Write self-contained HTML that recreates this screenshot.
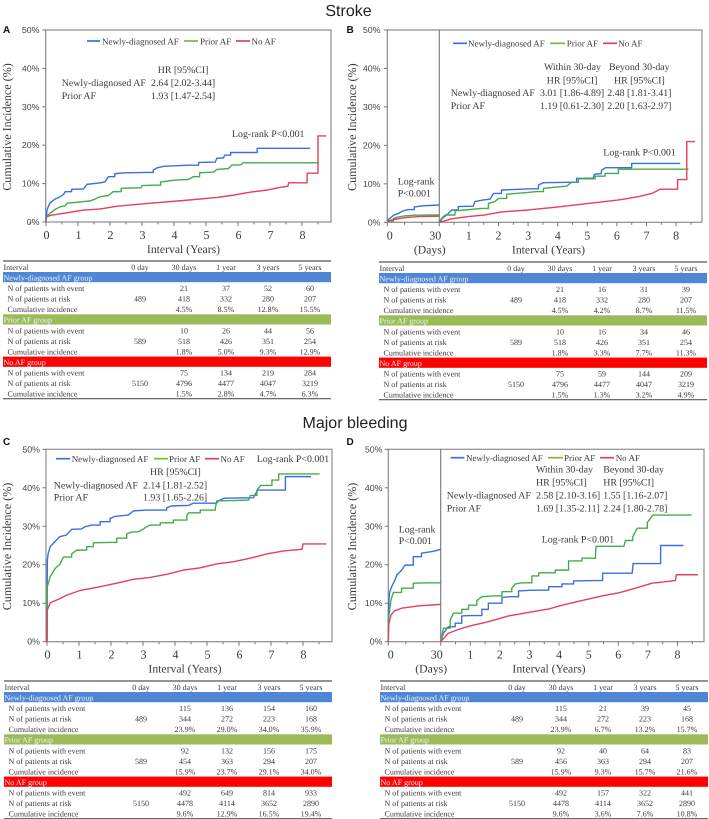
<!DOCTYPE html>
<html lang="en">
<head>
<meta charset="utf-8">
<title>Stroke and major bleeding cumulative incidence</title>
<style>
html,body{margin:0;padding:0;background:#fff;}
#figure{display:block;width:709px;height:819px;filter:blur(0.35px);text-rendering:geometricPrecision;}
text{font-family:"Liberation Serif",serif;fill:#3a3a3a;text-rendering:geometricPrecision;}
</style>
</head>
<body>
<svg id="figure" xmlns="http://www.w3.org/2000/svg" width="709" height="819" viewBox="0 0 709 819">
<text x="348.5" y="16" text-anchor="middle" style="font-family:'Liberation Sans',sans-serif;font-size:16px;fill:#222">Stroke</text>
<text x="355" y="428" text-anchor="middle" style="font-family:'Liberation Sans',sans-serif;font-size:16px;fill:#222">Major bleeding</text>
<text x="3" y="33" style="font-family:'Liberation Sans',sans-serif;font-size:10px;font-weight:bold;fill:#111">A</text>
<text x="346.5" y="33" style="font-family:'Liberation Sans',sans-serif;font-size:10px;font-weight:bold;fill:#111">B</text>
<text x="3" y="445" style="font-family:'Liberation Sans',sans-serif;font-size:10px;font-weight:bold;fill:#111">C</text>
<text x="346.5" y="445" style="font-family:'Liberation Sans',sans-serif;font-size:10px;font-weight:bold;fill:#111">D</text>
<g id="charts"></g>
<g id="tables"></g>
</svg>
<script>
// ---------- shared labels ----------
const yTickValues = [0, 10, 20, 30, 40, 50];
const yearTicks = [0, 1, 2, 3, 4, 5, 6, 7, 8];
const yearTicksNoZero = [1, 2, 3, 4, 5, 6, 7, 8];
const seriesNames = ['Newly-diagnosed AF', 'Prior AF', 'No AF'];
const tableColumns = ['0 day', '30 days', '1 year', '3 years', '5 years'];
const groupNames = ['Newly-diagnosed AF group', 'Prior AF group', 'No AF group'];
const rowNames = ['N of patients with event', 'N of patients at risk', 'Cumulative incidence'];

// ---------- Panel A (years, %) ----------
const aNewT = [0,0.03,0.08,0.13,0.29,0.45,0.55,0.6,0.8,1.17,1.28,1.7,1.85,1.95,2.15,2.5,3.15,3.35,3.47,3.68,4.46,4.77,5.29,5.34,5.55,5.58,5.77,6.6,8.26];
const aNewY = [0,3.1,4.2,5,6,6.6,7.2,7.9,8.5,8.6,9.8,10.2,10.5,11.8,12.6,12.8,12.9,13.5,14.1,14.5,14.8,15.5,15.6,16.6,16.7,17.4,18.1,19.2,19.2];
const aPriorT = [0,0.05,0.13,0.29,0.45,0.6,0.66,1.02,1.39,1.54,1.7,1.95,2.1,2.35,2.97,3,3.37,3.58,4,4.46,4.6,4.8,5.24,5.34,5.7,5.8,6.1,6.15,8.52];
const aPriorY = [1.2,1.7,2.3,3.3,4,4.2,4.9,5.2,5.5,6,6.6,6.9,7.9,8.8,8.9,9.5,9.6,10.4,10.9,11.1,11.8,12.8,13,13.7,13.9,14.8,14.9,15.4,15.4];
const aNoT = [0,0.13,0.65,1.18,1.7,2.2,3.26,4.3,5.35,5.87,6.4,6.9,7.3,7.56,7.58,8.16,8.16,8.5,8.5,8.76];
const aNoY = [1.2,1.7,2.4,3.1,3.4,4.1,4.9,5.6,6.4,7,7.8,8.3,9,9.3,10.2,10.2,12.7,12.7,22.4,22.4];

// ---------- Panel B (days 0-30, then years) ----------
const bNewDay = [0,1.5,3.5,6.3,9.2,12,15.6,20.8,25.6,30];
const bNewDayY = [0.5,1,1.8,2.3,3,3.3,4,4.3,4.4,4.5];
const bPriorDay = [0,3.5,6.3,10,16,30];
const bPriorDayY = [0.3,1,1.4,1.65,1.85,1.9];
const bNoDay = [0,3.5,10,17.9,30];
const bNoDayY = [0.3,0.7,1.2,1.5,1.6];
const bNewT = [0,0.1,0.25,0.42,0.64,1.15,1.2,1.49,1.71,1.83,2.1,3.06,3.35,3.52,4.36,4.64,5.2,5.24,5.46,5.49,5.62,6.5,8.14];
const bNewY = [0,1,1.9,3.2,4.1,4.2,5.4,5.8,6,7.5,8.4,8.7,9.7,10.3,10.4,11.4,11.5,12.5,12.6,13.6,14.2,15.3,15.3];
const bPriorT = [0,0.1,0.2,0.53,0.87,1.43,1.66,1.88,2,2.28,2.9,3.3,3.52,3.85,4.3,4.47,4.7,5.26,5.6,6.05,8.42];
const bPriorY = [0.3,1.2,1.9,3,3.2,3.6,4.9,5.4,6.2,7.3,7.7,8,8.8,9.1,9.4,10.4,11.3,12,12.7,13.8,13.8];
const bNoT = [0,0.42,0.98,1.54,2.1,3,3.9,5.04,5.6,6.16,6.73,7.18,7.46,8.05,8.05,8.36,8.36,8.64];
const bNoY = [0,0.9,1.5,1.9,2.7,3.2,3.9,4.9,5.4,5.9,6.7,7.5,8.6,8.6,11.1,11.1,21,21];

// ---------- Panel C (years, %) ----------
const cNewT = [0,0.01,0.04,0.1,0.25,0.4,0.6,0.77,1.08,1.19,1.4,1.66,1.97,2.13,2.54,2.7,3.12,3.74,3.9,4.42,4.58,5.3,5.36,5.54,6.45,6.58,7.45,8.25];
const cNewY = [0,21.2,23,24.7,26,27.3,27.7,29.2,29.3,29.9,30.3,31.2,32,32.6,32.9,34,34.2,34.8,35.3,35.4,36,36,36.6,37.3,37.4,39.4,42.9,42.9];
const cPriorT = [0,0.01,0.1,0.25,0.41,0.51,0.77,0.93,1.24,1.45,1.92,2.18,2.49,2.65,2.86,3,3.1,3.22,3.54,3.95,4.37,4.42,4.79,5.26,5.31,5.99,6.3,6.35,6.56,6.68,7.03,7.24,8.52];
const cPriorY = [0,14.3,16.9,19,20.2,22,22.8,23.8,24.7,25.7,25.8,26.9,28,28.5,28.6,29.2,29.8,30.3,30.9,31.6,32.8,33.5,34.2,34.8,36.6,36.7,36.8,38,39.4,40.6,42,43.6,43.6];
const cNoT = [0,0.01,0.1,0.35,0.62,1.03,1.66,2.18,2.7,3.22,3.74,4.26,4.79,5.3,5.83,6.35,6.87,7.39,7.97,8,8.73];
const cNoY = [0,8.2,10.1,11,12.1,13.3,14.3,15.2,16.2,16.7,17.5,18.6,19.2,20.2,20.8,21.7,22.8,23.6,24,25.4,25.4];

// ---------- Panel D (days 0-30, then years) ----------
const dNewDay = [0,0.1,0.6,1.9,3.8,4.8,7.6,9.6,14.3,19,25.8,30];
const dNewDayY = [0,8.2,12.6,14.3,16,17.3,18.6,19.9,22.1,23,23.5,24];
const dPriorDay = [0,0.1,1.5,2.9,7.6,14.3,22.9,30];
const dPriorDayY = [0,6,10.8,12.8,13.9,15.2,15.3,15.9];
const dNoDay = [0,0.2,1.5,3.4,7.6,17.2,30];
const dNoDayY = [0,4.3,6.9,8,8.7,9.3,9.7];
const dNewT = [0,0.09,0.26,0.49,0.71,0.99,1.39,1.61,2.07,2.35,2.63,3.08,3.65,4.1,4.49,5.23,5.47,6.47,6.5,7.43,8.2];
const dNewY = [0,2.2,3.9,4.8,6.7,6.8,8.4,10,11.5,11.7,13.2,13.4,14.3,15,15.8,15.9,17.8,17.8,20.3,25,25];
const dPriorT = [0,0.09,0.32,0.43,0.71,0.94,1.22,1.39,1.78,2.07,2.4,2.52,2.74,3.08,3.31,3.87,4.32,4.77,5.23,5.25,6.19,6.24,6.49,6.64,6.98,7.17,8.48];
const dPriorY = [0,3.5,5.6,7.4,8.4,9.5,10.7,11.7,11.9,13,13.9,15,15.3,17.1,17.9,18.6,21,21.7,22.5,24.8,24.8,26.3,27.3,29.5,31,32.9,32.9];
const dNoT = [0,0.26,0.6,0.99,1.61,2.29,2.97,3.65,4.1,4.77,5.45,6.02,6.58,7.14,7.6,7.93,7.96,8.69];
const dNoY = [0,2.2,3.2,4.1,5.2,6.7,7.6,8.5,9.5,10.7,11.9,12.7,13.9,15.2,15.6,15.9,17.4,17.4];

// ---------- Risk tables ----------
const tableAEvents = [[21,37,52,60],[10,26,44,56],[75,134,219,284]];
const tableARisk = [[489,418,332,280,207],[589,518,426,351,254],[5150,4796,4477,4047,3219]];
const tableACum = [['4.5%','8.5%','12.8%','15.5%'],['1.8%','5.0%','9.3%','12.9%'],['1.5%','2.8%','4.7%','6.3%']];
const tableBEvents = [[21,16,31,39],[10,16,34,46],[75,59,144,209]];
const tableBRisk = [[489,418,332,280,207],[589,518,426,351,254],[5150,4796,4477,4047,3219]];
const tableBCum = [['4.5%','4.2%','8.7%','11.5%'],['1.8%','3.3%','7.7%','11.3%'],['1.5%','1.3%','3.2%','4.9%']];
const tableCEvents = [[115,136,154,160],[92,132,156,175],[492,649,814,933]];
const tableCRisk = [[489,344,272,223,168],[589,454,363,294,207],[5150,4478,4114,3652,2890]];
const tableCCum = [['23.9%','29.0%','34.0%','35.9%'],['15.9%','23.7%','29.1%','34.0%'],['9.6%','12.9%','16.5%','19.4%']];
const tableDEvents = [[115,21,39,45],[92,40,64,83],[492,157,322,441]];
const tableDRisk = [[489,344,272,223,168],[589,456,363,294,207],[5150,4478,4114,3652,2890]];
const tableDCum = [['23.9%','6.7%','13.2%','15.7%'],['15.9%','9.3%','15.7%','21.6%'],['9.6%','3.6%','7.6%','10.8%']];

const SVGNS = 'http://www.w3.org/2000/svg';
const curveColors = ['#3b6fe0', '#43ad4a', '#e2405c'];
const legendColors = ['#3b6fe0', '#7cb83f', '#e2405c'];
const bandColors = ['#4f86d6', '#9bbb59', '#ff0000'];

function text(parent, x, y, str, size, name, anchor, sans, fill) {
  const el = document.createElementNS(SVGNS, 'text');
  el.setAttribute('x', x);
  el.setAttribute('y', y);
  
  
  el.setAttribute('text-anchor', anchor || 'start');
  el.style.fontSize = size + 'px';
  if (sans) el.style.fontFamily = '"Liberation Sans",sans-serif';
  if (fill) el.style.fill = fill;
  el.textContent = str;
  parent.appendChild(el);
  return el;
}
function line(parent, x1, y1, x2, y2, color, w, name) {
  const el = document.createElementNS(SVGNS, 'line');
  el.setAttribute('x1', x1);
  el.setAttribute('y1', y1);
  el.setAttribute('x2', x2);
  el.setAttribute('y2', y2);
  el.setAttribute('stroke', color);
  el.setAttribute('stroke-width', w);
  
  
  parent.appendChild(el);
}
// Kaplan-Meier style: long flat runs followed by a rise are drawn as a hold-then-jump,
// short runs are joined directly.
function curve(parent, ts, ys, xf, yf, color, stepped, name) {
  let d = 'M' + xf(ts[0]).toFixed(2) + ' ' + yf(ys[0]).toFixed(2);
  for (let i = 1; i < ts.length; i++) {
    const dx = xf(ts[i]) - xf(ts[i - 1]);
    const dy = yf(ys[i - 1]) - yf(ys[i]);
    if (stepped && dx >= 6 && dy >= 2) d += 'L' + xf(ts[i]).toFixed(2) + ' ' + yf(ys[i - 1]).toFixed(2);
    d += 'L' + xf(ts[i]).toFixed(2) + ' ' + yf(ys[i]).toFixed(2);
  }
  const el = document.createElementNS(SVGNS, 'path');
  el.setAttribute('d', d);
  el.setAttribute('fill', 'none');
  el.setAttribute('stroke', color);
  el.setAttribute('stroke-width', '1.4');
  el.setAttribute('stroke-linejoin', 'round');
  
  
  parent.appendChild(el);
}

function panel(p) {
  const g = document.createElementNS(SVGNS, 'g');
  
  
  document.getElementById('charts').appendChild(g);

  const yf = v => p.bottom - (v / 50) * (p.bottom - p.top);
  const xYear = t => p.yearX0 + t * p.yearW;
  const xDay = d => p.left + d * (p.divider - p.left) / 30;

  // frame
  const frame = document.createElementNS(SVGNS, 'rect');
  frame.setAttribute('x', p.left);
  frame.setAttribute('y', p.top);
  frame.setAttribute('width', p.right - p.left);
  frame.setAttribute('height', p.bottom - p.top);
  frame.setAttribute('fill', 'none');
  frame.setAttribute('stroke', '#8c8c8c');
  frame.setAttribute('stroke-width', '1.2');
  
  
  g.appendChild(frame);
  if (p.divider) line(g, p.divider, p.top, p.divider, p.bottom, '#777', 1.1, 'day-year-divider-' + p.id);

  // y axis
  yTickValues.forEach(v => {
    line(g, p.left - 3.5, yf(v), p.left, yf(v), '#777', 1, 'y-tick-' + p.id + '-' + v);
    text(g, p.yLabelX, yf(v) + 3, v + '%', 8.8, 'y-tick-label-' + p.id + '-' + v, 'end', true, '#444');
  });
  const yt = text(g, p.yTitleX, (p.top + p.bottom) / 2 + 1, 'Cumulative Incidence (%)', 12.1, 'y-axis-title-' + p.id, 'middle');
  yt.setAttribute('transform', 'rotate(-90 ' + p.yTitleX + ' ' + ((p.top + p.bottom) / 2 + 1) + ')');

  // x axis
  const ticks = p.divider ? yearTicksNoZero : yearTicks;
  ticks.forEach(t => {
    line(g, xYear(t), p.bottom, xYear(t), p.bottom + 4, '#777', 1, 'x-tick-' + p.id + '-' + t);
    text(g, xYear(t) + (p.divider ? 0 : 0.5), p.bottom + 17, String(t), 12, 'x-tick-label-' + p.id + '-' + t, 'middle');
    line(g, xYear(t - 0.5), p.bottom, xYear(t - 0.5), p.bottom + 2.5, '#777', 1, 'x-minor-tick-' + p.id + '-' + t);
  });
  line(g, xYear(8.5), p.bottom, xYear(8.5), p.bottom + 2.5, '#777', 1, 'x-minor-tick-' + p.id + '-end');
  text(g, p.xTitleX, p.bottom + 31, 'Interval (Years)', 11.7, 'x-axis-title-' + p.id, 'middle');
  if (p.divider) {
    [0, 10, 20, 30].forEach(d => {
      line(g, xDay(d), p.bottom, xDay(d), p.bottom + (d % 30 ? 2.5 : 4), '#777', 1, 'day-tick-' + p.id + '-' + d);
    });
    text(g, p.left + 2.5, p.bottom + 17, '0', 12, 'day-label-' + p.id + '-0', 'middle');
    text(g, p.divider - 4, p.bottom + 17, '30', 12, 'day-label-' + p.id + '-30', 'middle');
    text(g, p.divider - 9.5, p.bottom + 31, '(Days)', 11.7, 'days-axis-title-' + p.id, 'middle');
  }

  // curves
  const keys = ['new', 'prior', 'no'];
  keys.forEach((k, i) => {
    if (p.days) curve(g, p.days[i][0], p.days[i][1], xDay, yf, curveColors[i], i < 2, 'curve-days-' + p.id + '-' + k);
    curve(g, p.series[i][0], p.series[i][1], xYear, yf, curveColors[i], i < 2, 'curve-' + p.id + '-' + k);
  });

  // legend
  seriesNames.forEach((s, i) => {
    const l = p.legend[i];
    line(g, l[0], p.legendY, l[1], p.legendY, legendColors[i], 1.7, 'legend-swatch-' + p.id + '-' + keys[i]);
    text(g, l[2], p.legendY + 3.3, s, 9, 'legend-entry-' + p.id + '-' + keys[i]);
  });

  // annotations
  p.notes.forEach((n, i) => text(g, n[0], n[1], n[2], 9.9, 'annotation-' + p.id + '-' + (i + 1)));
}

panel({
  id: 'a', left: 45.7, right: 331, top: 30, bottom: 222, yearX0: 46, yearW: 32, yLabelX: 39.5, yTitleX: 11, xTitleX: 183.5,
  series: [[aNewT, aNewY], [aPriorT, aPriorY], [aNoT, aNoY]],
  legendY: 41, legend: [[87, 100, 102], [184, 198, 200], [236, 250, 251.5]],
  notes: [
    [157.7, 73, 'HR [95%CI]'],
    [61.7, 86, 'Newly-diagnosed AF'], [151, 86, '2.64 [2.02-3.44]'],
    [61.7, 99, 'Prior AF'], [151, 99, '1.93 [1.47-2.54]'],
    [232, 137, 'Log-rank P<0.001']
  ]
});
panel({
  id: 'b', left: 387.3, right: 702, divider: 439.3, top: 30, bottom: 222.3, yearX0: 439.3, yearW: 29.6, yLabelX: 380.5, yTitleX: 356, xTitleX: 548.5,
  series: [[bNewT, bNewY], [bPriorT, bPriorY], [bNoT, bNoY]],
  days: [[bNewDay, bNewDayY], [bPriorDay, bPriorDayY], [bNoDay, bNoDayY]],
  legendY: 43.3, legend: [[453, 467, 468], [550, 565, 566.7], [603, 617, 618.3]],
  notes: [
    [544, 70, 'Within 30-day'], [609, 70, 'Beyond 30-day'],
    [546.7, 83.3, 'HR [95%CI]'], [614, 83.3, 'HR [95%CI]'],
    [450.7, 96, 'Newly-diagnosed AF'], [540, 96, '3.01 [1.86-4.89]'], [607.3, 96, '2.48 [1.81-3.41]'],
    [450.7, 109, 'Prior AF'], [540, 109, '1.19 [0.61-2.30]'], [607.3, 109, '2.20 [1.63-2.97]'],
    [603.3, 155.7, 'Log-rank P<0.001'],
    [397.7, 184.7, 'Log-rank'], [397.7, 196.7, 'P<0.001']
  ]
});
panel({
  id: 'c', left: 46, right: 332, top: 449.3, bottom: 641.7, yearX0: 47, yearW: 32, yLabelX: 40, yTitleX: 11, xTitleX: 185,
  series: [[cNewT, cNewY], [cPriorT, cPriorY], [cNoT, cNoY]],
  legendY: 458.7, legend: [[56, 70, 71.7], [154, 168, 169], [205, 219, 220.5]],
  notes: [
    [256.7, 462, 'Log-rank P<0.001'],
    [150, 475, 'HR [95%CI]'],
    [53.7, 488.3, 'Newly-diagnosed AF'], [143, 488.3, '2.14 [1.81-2.52]'],
    [53.7, 500.7, 'Prior AF'], [143, 500.7, '1.93 [1.65-2.26]']
  ]
});
panel({
  id: 'd', left: 388.3, right: 704, divider: 440.7, top: 449.3, bottom: 641.7, yearX0: 440.7, yearW: 29.6, yLabelX: 382.5, yTitleX: 356, xTitleX: 549,
  series: [[dNewT, dNewY], [dPriorT, dPriorY], [dNoT, dNoY]],
  days: [[dNewDay, dNewDayY], [dPriorDay, dPriorDayY], [dNoDay, dNoDayY]],
  legendY: 457.7, legend: [[450.7, 464.3, 466], [548, 563, 564], [600, 614, 615.7]],
  notes: [
    [536, 472.7, 'Within 30-day'], [603.3, 472.7, 'Beyond 30-day'],
    [536, 485.7, 'HR [95%CI]'], [603.3, 485.7, 'HR [95%CI]'],
    [446.7, 498.7, 'Newly-diagnosed AF'], [536, 498.7, '2.58 [2.10-3.16]'], [603.3, 498.7, '1.55 [1.16-2.07]'],
    [446.7, 511.3, 'Prior AF'], [536, 511.3, '1.69 [1.35-2.11]'], [603.3, 511.3, '2.24 [1.80-2.78]'],
    [541.7, 542.3, 'Log-rank P<0.001'],
    [398.7, 532.7, 'Log-rank'], [398.7, 544, 'P<0.001']
  ]
});

function table(id, x0, x1, top, events, risk, cum) {
  const g = document.createElementNS(SVGNS, 'g');
  
  
  document.getElementById('tables').appendChild(g);
  const colX = [137, 181, 223, 265, 307].map(c => x0 + c);
  const size = 8;
  line(g, x0, top, x1, top, '#555', 1.2, 'table-top-rule-' + id);
  line(g, x0, top + 137.7, x1, top + 137.7, '#555', 1.2, 'table-bottom-rule-' + id);
  text(g, x0 + 0.5, top + 9, 'Interval', size, 'table-header-interval-' + id);
  tableColumns.forEach((c, i) => text(g, colX[i], top + 9, c, size, 'table-header-' + id + '-' + i, 'middle'));
  groupNames.forEach((name, gi) => {
    const off = gi * 42.3;
    const band = document.createElementNS(SVGNS, 'rect');
    band.setAttribute('x', x0);
    band.setAttribute('y', top + 11 + off);
    band.setAttribute('width', x1 - x0);
    band.setAttribute('height', 10.2);
    band.setAttribute('fill', bandColors[gi]);
    
    
    g.appendChild(band);
    text(g, x0 + 0.5, top + 19.4 + off, name, 8, 'table-group-label-' + id + '-' + gi, 'start', false, '#eef3f8');
    rowNames.forEach((r, ri) => {
      text(g, x0 + 4.5, top + 30 + off + ri * 10.5, r, size, 'table-row-label-' + id + '-' + gi + '-' + ri);
    });
    events[gi].forEach((v, i) => text(g, colX[i + 1], top + 30 + off, String(v), size, 'table-events-' + id + '-' + gi + '-' + i, 'middle'));
    risk[gi].forEach((v, i) => text(g, colX[i], top + 40.5 + off, String(v), size, 'table-risk-' + id + '-' + gi + '-' + i, 'middle'));
    cum[gi].forEach((v, i) => text(g, colX[i + 1], top + 51 + off, v, size, 'table-cumulative-' + id + '-' + gi + '-' + i, 'middle'));
  });
}
table('a', 3, 331, 261, tableAEvents, tableARisk, tableACum);
table('b', 379, 707, 262, tableBEvents, tableBRisk, tableBCum);
table('c', 4, 332, 681, tableCEvents, tableCRisk, tableCCum);
table('d', 380, 708, 681, tableDEvents, tableDRisk, tableDCum);
</script>
</body>
</html>
